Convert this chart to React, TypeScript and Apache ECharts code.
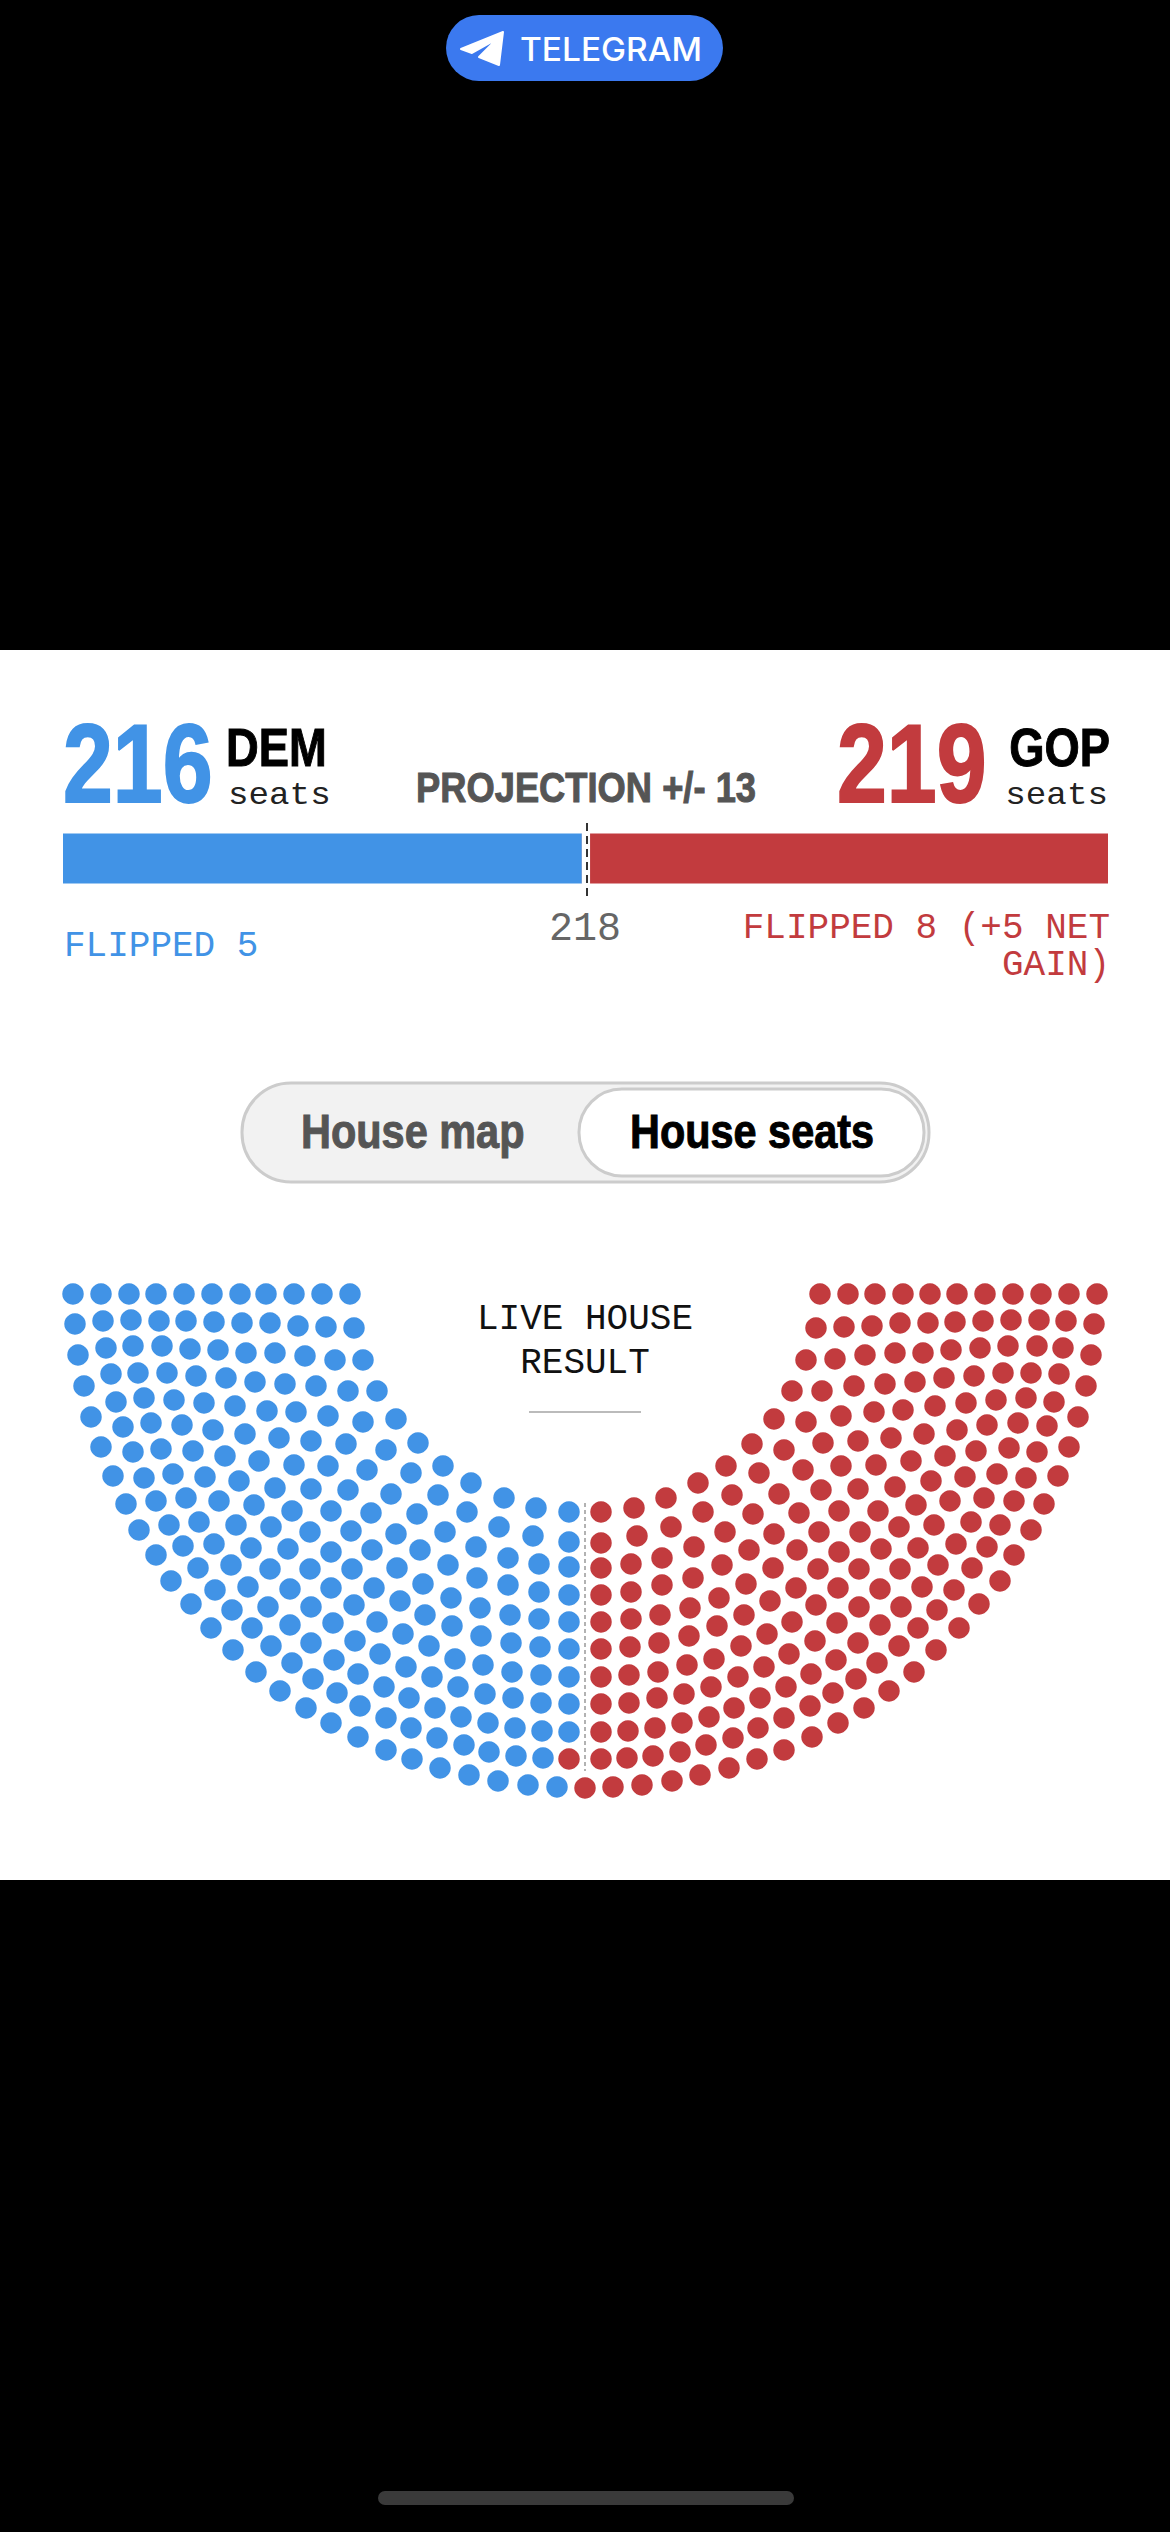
import React, { useEffect, useRef } from "react";
import * as echarts from "echarts";

const TOTAL_SEATS = 435;
const MAJORITY = 218;
const DEM_SEATS = 216;
const GOP_SEATS = 219;

const BLUE = "#4193e6";
const RED = "#c23b3e";

// Seat positions, one radial spoke or visual rank per line.
const demSeats: number[][] = [
  [73,1294],[101,1294],[129,1294],[156,1294],[184,1294],[212,1294],[240,1294],[266,1294],[294,1294],[322,1294],[350,1294],
  [75,1324],[103,1321],[131,1320],[159,1321],[186,1321],[214,1322],[242,1323],[270,1323],[298,1326],[326,1327],[354,1328],
  [78,1355],[106,1348],[133,1346],[162,1346],[190,1349],[218,1350],[246,1353],[275,1353],[305,1356],[335,1360],[363,1360],
  [84,1386],[111,1374],[138,1373],[167,1373],[196,1376],[226,1378],[255,1382],[285,1384],[316,1386],[348,1391],[377,1391],
  [91,1417],[116,1402],[144,1398],[174,1400],[204,1403],[235,1406],[267,1411],[296,1412],[328,1416],[363,1422],[396,1419],
  [101,1447],[123,1427],[151,1423],[182,1425],[213,1430],[245,1434],[279,1438],[311,1441],[346,1444],[386,1450],[418,1443],
  [113,1476],[133,1452],[161,1449],[193,1451],[225,1456],[259,1461],[294,1465],[328,1466],[367,1470],[411,1473],[443,1466],
  [126,1504],[144,1478],[173,1474],[205,1477],[239,1481],[275,1488],[311,1489],[348,1490],[391,1494],[438,1495],[471,1483],
  [139,1530],[156,1501],[186,1498],[219,1501],[254,1505],[292,1511],[331,1511],[371,1513],[417,1514],[467,1512],[504,1498],
  [156,1555],[169,1525],[199,1522],[236,1525],[271,1527],[310,1532],[351,1531],[396,1534],[445,1532],[499,1527],[536,1508],
  [171,1581],[183,1546],[214,1544],[251,1548],[288,1549],[331,1552],[372,1550],[420,1550],[476,1547],[533,1536],[569,1512],
  [569,1542],
  [198,1568],[231,1565],[270,1569],[310,1569],[352,1569],[397,1568],[448,1565],[508,1558],[539,1564],[569,1567],
  [215,1590],[248,1587],[290,1589],[331,1588],[374,1588],[423,1584],[477,1578],[508,1585],[539,1592],[569,1595],
  [191,1604],[232,1610],[268,1607],[311,1607],[354,1605],[400,1601],[451,1598],[480,1608],[510,1615],[539,1619],[569,1622],
  [211,1628],[252,1628],[290,1625],[333,1623],[377,1622],[425,1615],[452,1626],[481,1636],[511,1643],[540,1647],[569,1649],
  [233,1650],[271,1646],[311,1643],[355,1641],[403,1634],[429,1646],[455,1659],[483,1665],[512,1672],[541,1675],[569,1677],
  [256,1672],[292,1663],[334,1660],[380,1654],[406,1667],[432,1677],[458,1687],[485,1694],[513,1698],[541,1703],[569,1704],
  [280,1691],[313,1679],[358,1674],[384,1687],[409,1698],[435,1708],[461,1717],[488,1723],[515,1728],[542,1731],[569,1732],
  [306,1708],[337,1693],[360,1706],[386,1718],[411,1728],[437,1738],[464,1745],[489,1752],[516,1756],[543,1758],
  [331,1723],[358,1737],[386,1750],[412,1759],[440,1768],[469,1775],[498,1781],[528,1785],[557,1787],
];

const gopSeats: number[][] = [
  [820,1294],[848,1294],[875,1294],[903,1294],[930,1294],[957,1294],[985,1294],[1013,1294],[1041,1294],[1069,1294],[1097,1294],
  [816,1328],[844,1327],[872,1326],[900,1323],[928,1323],[955,1322],[983,1321],[1011,1320],[1039,1320],[1066,1321],[1094,1324],
  [806,1360],[835,1359],[865,1355],[895,1353],[923,1353],[951,1350],[980,1348],[1008,1346],[1037,1346],[1063,1348],[1091,1355],
  [792,1391],[822,1391],[854,1386],[885,1384],[915,1382],[944,1378],[974,1376],[1003,1373],[1031,1373],[1059,1374],[1086,1386],
  [774,1419],[806,1422],[841,1416],[874,1412],[903,1410],[935,1406],[966,1403],[996,1400],[1026,1398],[1054,1402],[1078,1417],
  [752,1444],[784,1450],[823,1443],[858,1441],[891,1438],[924,1434],[957,1430],[987,1425],[1018,1423],[1047,1426],[1069,1447],
  [726,1466],[759,1473],[803,1470],[841,1466],[876,1465],[911,1461],[945,1456],[976,1451],[1009,1448],[1037,1452],[1058,1476],
  [698,1483],[732,1495],[779,1494],[821,1490],[858,1489],[895,1487],[931,1481],[965,1477],[997,1474],[1026,1478],[1044,1504],
  [666,1498],[703,1512],[753,1514],[799,1513],[839,1511],[878,1511],[916,1505],[950,1501],[984,1498],[1014,1501],[1031,1530],
  [634,1508],[671,1527],[725,1532],[774,1534],[819,1532],[860,1532],[899,1527],[934,1525],[971,1522],[1000,1525],[1014,1555],
  [601,1512],[637,1536],[694,1547],[749,1550],[797,1550],[839,1552],[881,1549],[918,1548],[956,1544],[987,1547],[1000,1581],
  [601,1543],
  [601,1568],[631,1564],[662,1558],[722,1565],[773,1568],[818,1569],[859,1569],[900,1569],[938,1565],[972,1568],
  [601,1595],[631,1592],[662,1585],[693,1578],[746,1584],[796,1588],[838,1588],[880,1589],[922,1587],[954,1590],
  [601,1622],[631,1619],[660,1615],[690,1608],[719,1598],[770,1601],[816,1605],[859,1607],[901,1607],[937,1610],[979,1604],
  [601,1649],[630,1647],[659,1643],[689,1636],[717,1626],[744,1615],[792,1622],[837,1623],[880,1625],[918,1628],[959,1628],
  [601,1677],[629,1675],[658,1672],[687,1665],[714,1659],[741,1646],[767,1634],[815,1641],[858,1643],[899,1646],[936,1650],
  [601,1704],[629,1703],[657,1698],[684,1694],[711,1687],[738,1677],[764,1667],[789,1654],[836,1660],[877,1663],[914,1672],
  [601,1732],[628,1731],[655,1728],[682,1723],[709,1717],[734,1708],[760,1698],[786,1687],[811,1674],[856,1679],[889,1691],
  [601,1759],[627,1758],[653,1756],[680,1752],[706,1745],[733,1738],[758,1728],[784,1718],[810,1706],[833,1693],[864,1708],
  [585,1788],[613,1787],[642,1785],[672,1781],[700,1775],[729,1768],[757,1759],[784,1750],[812,1737],[838,1723],
  [569,1759],
];

const SANS = '"Liberation Sans"';
const MONO = '"Liberation Mono"';

function label(
  text: string,
  x: number,
  y: number,
  font: string,
  fill: string,
  textAlign: string = "left",
  scaleX: number = 1,
  heavy: number = 0
) {
  return {
    type: "text",
    x,
    y,
    scaleX,
    z: 20,
    style: {
      text,
      font,
      fill,
      textAlign,
      textVerticalAlign: "middle",
      ...(heavy ? { stroke: fill, lineWidth: heavy } : {}),
    },
  };
}

export default function App() {
  const ref = useRef<HTMLDivElement>(null);

  useEffect(() => {
    if (!ref.current) return;
    const chart = echarts.init(ref.current, undefined, { renderer: "svg" });

    chart.setOption({
      animation: false,
      backgroundColor: "#000000",
      grid: [
        { id: "seats", left: 0, top: 0, width: 1170, height: 2532, show: false },
        { id: "bar", left: 63, top: 821, width: 1045, height: 75, show: false },
      ],
      xAxis: [
        { gridIndex: 0, type: "value", min: 0, max: 1170, show: false },
        { gridIndex: 1, type: "value", min: 0, max: TOTAL_SEATS, show: false },
      ],
      yAxis: [
        { gridIndex: 0, type: "value", min: 0, max: 2532, inverse: true, show: false },
        { gridIndex: 1, type: "category", data: ["Seats"], show: false },
      ],
      series: [
        {
          name: "DEM seats",
          type: "bar",
          stack: "total",
          xAxisIndex: 1,
          yAxisIndex: 1,
          barWidth: 50,
          z: 2,
          itemStyle: { color: BLUE },
          data: [DEM_SEATS],
        },
        {
          name: "GOP seats",
          type: "bar",
          stack: "total",
          xAxisIndex: 1,
          yAxisIndex: 1,
          barWidth: 50,
          z: 2,
          itemStyle: { color: RED },
          data: [GOP_SEATS],
        },
        {
          name: "Majority",
          type: "line",
          xAxisIndex: 1,
          yAxisIndex: 1,
          data: [],
          z: 3,
          silent: true,
          markArea: {
            silent: true,
            z: 3,
            itemStyle: { color: "#ffffff" },
            label: { show: false },
            data: [[{ xAxis: DEM_SEATS }, { xAxis: 219.4 }]],
          },
          markLine: {
            silent: true,
            z: 5,
            symbol: "none",
            label: { show: false },
            lineStyle: { color: "#333333", width: 2, type: [8, 5] },
            data: [{ xAxis: MAJORITY }],
          },
        },
        {
          name: "Democratic seats",
          type: "scatter",
          xAxisIndex: 0,
          yAxisIndex: 0,
          symbolSize: 21.5,
          clip: false,
          z: 4,
          itemStyle: { color: BLUE, opacity: 1 },
          data: demSeats,
        },
        {
          name: "Republican seats",
          type: "scatter",
          xAxisIndex: 0,
          yAxisIndex: 0,
          symbolSize: 21.5,
          clip: false,
          z: 4,
          itemStyle: { color: RED, opacity: 1 },
          data: gopSeats,
          markLine: {
            silent: true,
            symbol: "none",
            label: { show: false },
            lineStyle: { color: "#999999", width: 1.5, type: [4, 3] },
            data: [[{ coord: [585, 1503] }, { coord: [585, 1771] }]],
          },
        },
      ],
      graphic: [
        // White card behind the chart
        { type: "rect", z: -10, zlevel: 0, shape: { x: 0, y: 650, width: 1170, height: 1230 }, style: { fill: "#ffffff" } },
        // Telegram pill
        { type: "rect", z: 10, shape: { x: 446, y: 15, width: 277, height: 66, r: 33 }, style: { fill: "#3b79ef" } },
        {
          type: "polygon",
          z: 11,
          shape: { points: [[503, 32], [499, 65], [479, 57], [497, 39], [472, 53], [461, 49]] },
          style: { fill: "#ffffff", stroke: "#ffffff", lineWidth: 2, lineJoin: "round" },
        },
        label("TELEGRAM", 520, 49, `500 32px Inter`, "#ffffff", "left", 1.045),
        // Header
        label("216", 63, 763, `bold 112px ${SANS}`, BLUE, "left", 0.8, 2),
        label("DEM", 226, 748, `bold 54px ${SANS}`, "#000000", "left", 0.84, 1),
        label("seats", 228, 795, `32px ${MONO}`, "#222222", "left", 1.07),
        label("PROJECTION +/- 13", 416, 787, `bold 42px ${SANS}`, "#555555", "left", 0.865, 1),
        label("219", 837, 763, `bold 112px ${SANS}`, RED, "left", 0.8, 2),
        label("GOP", 1110, 748, `bold 54px ${SANS}`, "#000000", "right", 0.84, 1),
        label("seats", 1108, 795, `32px ${MONO}`, "#222222", "right", 1.07),
        // Labels below the bar
        label("218", 585, 929, `40px ${MONO}`, "#666666", "center"),
        label("FLIPPED 5", 64, 946, `36px ${MONO}`, BLUE),
        label("FLIPPED 8 (+5 NET", 1110, 928, `36px ${MONO}`, RED, "right"),
        label("GAIN)", 1110, 965, `36px ${MONO}`, RED, "right"),
        // Toggle
        { type: "rect", z: 10, shape: { x: 242, y: 1083, width: 687, height: 99, r: 49 }, style: { fill: "#f2f2f2", stroke: "#cccccc", lineWidth: 3 } },
        { type: "rect", z: 11, shape: { x: 579, y: 1089, width: 345, height: 87, r: 43 }, style: { fill: "#ffffff", stroke: "#cccccc", lineWidth: 3 } },
        label("House map", 301, 1131, `bold 48px ${SANS}`, "#555555", "left", 0.864, 1),
        label("House seats", 630, 1131, `bold 48px ${SANS}`, "#000000", "left", 0.8625, 1),
        // Seat chart title
        label("LIVE HOUSE", 585, 1319, `36px ${MONO}`, "#111111", "center"),
        label("RESULT", 585, 1363, `36px ${MONO}`, "#111111", "center"),
        { type: "line", z: 10, shape: { x1: 529, y1: 1412, x2: 641, y2: 1412 }, style: { stroke: "#bbbbbb", lineWidth: 2 } },
        // Home indicator
        { type: "rect", z: 10, shape: { x: 378, y: 2491, width: 416, height: 14, r: 7 }, style: { fill: "#3a3a3a" } },
      ],
    });

    return () => chart.dispose();
  }, []);

  return (
    <div
      ref={ref}
      style={{ position: "absolute", left: 0, top: 0, width: 1170, height: 2532 }}
    />
  );
}
